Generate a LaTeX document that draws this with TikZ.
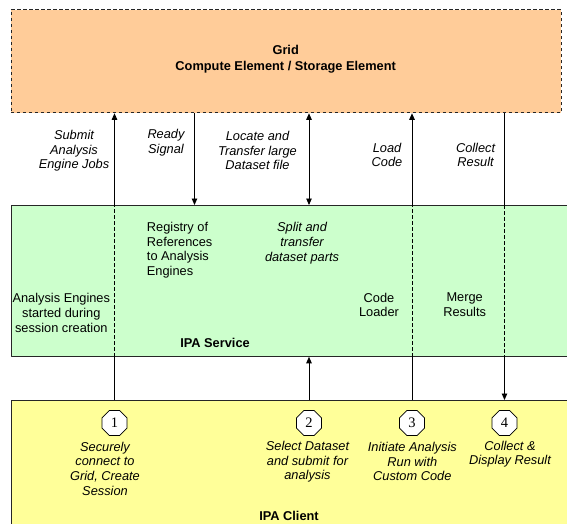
\documentclass[tikz,border=0pt]{standalone}
\usepackage{fontspec}
\setmainfont{Liberation Sans}
\newfontfamily\numfont{Liberation Serif}
\usetikzlibrary{shapes.geometric,arrows.meta}
\definecolor{gridcol}{HTML}{FFCC99}
\definecolor{servcol}{HTML}{CCFFCC}
\definecolor{clicol}{HTML}{FFFF99}
\newcommand\txt{\fontsize{12.8}{14.7}\selectfont}
\tikzset{
	layer/.style={draw=black!85,line width=0.8pt,anchor=north west,inner sep=0pt},
	lbl/.style={align=center,inner sep=0pt,font=\txt},
	say/.style={lbl,font=\txt\itshape},
	head/.style={lbl,font=\txt\bfseries},
	stepno/.style={regular polygon,regular polygon sides=8,draw,fill=white,line width=0.8pt,
		minimum size=27pt,inner sep=0pt,font=\numfont\fontsize{14.5}{14.5}\selectfont},
	cut/.style={dash pattern=on 3.5pt off 2.5pt}
}
\begin{document}
\begin{tikzpicture}[x=1pt,y=-1pt,line join=round,line width=0.9pt,>={Triangle[length=6.5pt,width=5.5pt]}]
	\useasboundingbox (0,0) rectangle (567,524);
	\clip (0,0) rectangle (567,524);
	\node[layer,fill=gridcol,cut,minimum width=550.5pt,minimum height=103pt] (grid) at (10.5,9.5) {};
	\node[layer,fill=servcol,minimum width=570pt,minimum height=151pt] (service) at (10.5,205) {};
	\node[layer,fill=clicol,minimum width=570pt,minimum height=140pt] (client) at (10.5,400) {};
	\path
	(194.5,0) coordinate (rd)
	;
	\foreach \n/\x in {1/114.5,2/309,3/412,4/504.5}
	\node[stepno] (o\n) at (\x,423) {\n};
	\foreach \o in {o1,o3}{
		\draw (\o |- client.north) -- (\o |- service.south);
		\draw[cut] (\o |- service.south) -- (\o |- service.north);
		\draw[->] (\o |- service.north) -- (\o |- grid.south);
	}
	\draw (o4 |- grid.south) -- (o4 |- service.north);
	\draw[cut] (o4 |- service.north) -- (o4 |- service.south);
	\draw[->] (o4 |- service.south) -- (o4 |- client.north);
	\draw[->] (rd |- grid.south) -- (rd |- service.north);
	\draw[<->] (o2 |- grid.south) -- (o2 |- service.north);
	\draw[->] (o2 |- client.north) -- (o2 |- service.south);
	
	\node[head] (gridlbl) at (285.7,59) {Grid\\[1pt]Compute Element / Storage Element};
	\node[say] (submit) at (74,150.7) {Submit\\Analysis\\Engine Jobs};
	\node[say] (ready) at (166,143) {Ready\\Signal};
	\node[say] (locate) at (257.5,150.5) {Locate and\\Transfer large\\Dataset file};
	\node[say] (load) at (387,155) {Load\\Code};
	\node[say] (result) at (475.6,155) {Collect\\Result};
	
	\node[lbl] (engines) at (61.3,313) {Analysis Engines\\started during\\session creation};
	\node[lbl,align=left,anchor=west] (registry) at (146.5,250.3) {Registry of\\References\\to Analysis\\Engines};
	\node[say] (split) at (302,243) {Split and\\transfer\\dataset parts};
	\node[lbl] (loader) at (379,305) {Code\\Loader};
	\node[lbl] (merge) at (464.7,305) {Merge\\Results};
	\node[head] (servlbl) at (215,342.7) {IPA Service};
	
	\node[say] (connect) at (105,468.5) {Securely\\connect to\\Grid, Create\\Session};
	\node[say] (select) at (307.5,461.7) {Select Dataset\\and submit for\\analysis};
	\node[say] (initiate) at (412.3,461.7) {Initiate Analysis\\Run with\\Custom Code};
	\node[say] (display) at (510,454.2) {Collect \&\\Display Result};
	\node[head] (clilbl) at (289,516) {IPA Client};
\end{tikzpicture}
\end{document}
